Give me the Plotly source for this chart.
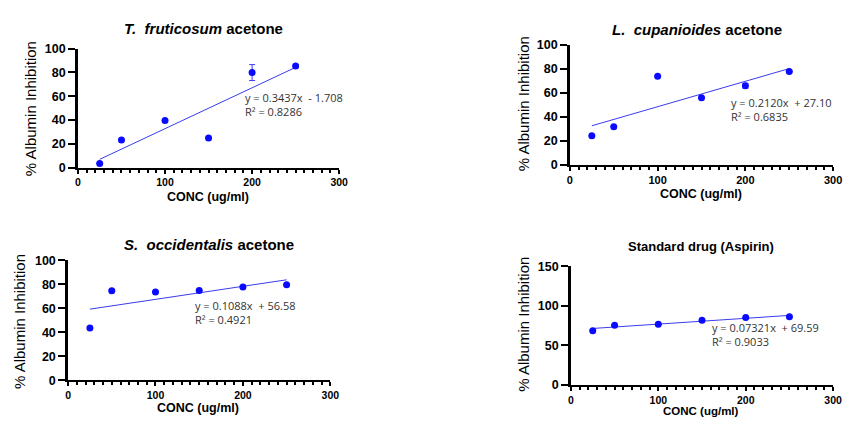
import plotly.graph_objects as go

# ---- data ----
conc = [25, 50, 100, 150, 200, 250]

tf_inhib = [3.3, 23.2, 39.5, 24.8, 79.8, 85.3]
tf_err = [0, 0, 0, 0, 6.7, 0]
tf_slope, tf_icpt, tf_r2 = 0.3437, -1.708, 0.8286

lc_inhib = [24.0, 31.5, 73.6, 55.8, 65.8, 77.6]
lc_err = [0, 0, 0, 0, 2.0, 0]
lc_slope, lc_icpt, lc_r2 = 0.2120, 27.10, 0.6835

so_inhib = [43.5, 74.6, 73.5, 74.9, 77.8, 79.7]
so_err = [0, 0, 0, 0, 0, 0]
so_slope, so_icpt, so_r2 = 0.1088, 56.58, 0.4921

asp_inhib = [68.5, 75.4, 76.6, 81.9, 85.1, 86.3]
asp_err = [0, 0, 0, 0, 0, 0]
asp_slope, asp_icpt, asp_r2 = 0.07321, 69.59, 0.9033

trend_x = [25, 250]

titles = ["<i>T.  fruticosum</i> acetone", "<i>L.  cupanioides</i> acetone",
          "<i>S.  occidentalis</i> acetone", "Standard drug (Aspirin)"]
eq_texts = ["y = 0.3437x  - 1.708<br>R² = 0.8286",
            "y = 0.2120x  + 27.10<br>R² = 0.6835",
            "y = 0.1088x  + 56.58<br>R² = 0.4921",
            "y = 0.07321x  + 69.59<br>R² = 0.9033"]
x_title = "CONC (ug/ml)"
y_title = "% Albumin Inhibition"

W, H = 852, 424

panels = [
    dict(y=tf_inhib, e=tf_err, s=tf_slope, b=tf_icpt, px=(76, 341), py=(43, 166), yr=100, dy=20,
         title_xy=(203, 22), tsize=15, ytitle_xy=(28, 105), xtitle_xy=(208, 196), xts=12.5, eq_xy=(243, 91),
         xtf=10.5, ytf=12.5),
    dict(y=lc_inhib, e=lc_err, s=lc_slope, b=lc_icpt, px=(575, 842), py=(39, 163), yr=100, dy=20,
         title_xy=(704, 23), tsize=15, ytitle_xy=(528, 100), xtitle_xy=(708, 193), xts=12.5, eq_xy=(736, 96),
         xtf=11, ytf=12.5),
    dict(y=so_inhib, e=so_err, s=so_slope, b=so_icpt, px=(66, 332), py=(262, 386), yr=100, dy=20,
         title_xy=(209, 246), tsize=15, ytitle_xy=(17, 325), xtitle_xy=(198, 415), xts=12.5, eq_xy=(193, 306),
         xtf=10.5, ytf=12.5),
    dict(y=asp_inhib, e=asp_err, s=asp_slope, b=asp_icpt, px=(576, 842), py=(268, 391), yr=150, dy=50,
         title_xy=(708, 248), tsize=13, ytitle_xy=(528, 328), xtitle_xy=(708, 418), xts=11.5, eq_xy=(717, 329),
         xtf=10.5, ytf=12.5),
]

fig = go.Figure()
annotations = []
layout_axes = {}

for i, p in enumerate(panels):
    k = "" if i == 0 else str(i + 1)
    xa, ya = "x" + k, "y" + k
    fig.add_trace(go.Scatter(
        x=trend_x, y=[p["s"] * xv + p["b"] for xv in trend_x], mode="lines",
        line=dict(color="#3b3bf0", width=1), xaxis=xa, yaxis=ya, showlegend=False, hoverinfo="skip"))
    fig.add_trace(go.Scatter(
        x=conc, y=p["y"], mode="markers",
        marker=dict(color="#0a0aff", size=7),
        error_y=dict(type="data", array=p["e"], color="#3b3bf0", thickness=1, width=3),
        xaxis=xa, yaxis=ya, showlegend=False))

    x0, x1 = p["px"]
    y0, y1 = p["py"]
    layout_axes["xaxis" + k] = dict(
        domain=[x0 / W, x1 / W], range=[0, 300], anchor=ya,
        showline=True, linecolor="black", linewidth=2, showgrid=False, zeroline=False,
        ticks="outside", ticklen=4, tickwidth=2, tickcolor="black", dtick=100, tick0=0,
        minor=dict(ticks="outside", ticklen=3, tickwidth=1.5, tickcolor="black", dtick=10, showgrid=False),
        tickfont=dict(family="Liberation Sans", size=p["xtf"], color="black", weight="bold"))
    layout_axes["yaxis" + k] = dict(
        domain=[1 - y1 / H, 1 - y0 / H], range=[0, p["yr"]], anchor=xa,
        showline=True, linecolor="black", linewidth=2.5, showgrid=False, zeroline=False,
        ticks="outside", ticklen=7, tickwidth=2, tickcolor="black", dtick=p["dy"], tick0=0,
        tickfont=dict(family="Liberation Sans", size=p["ytf"], color="black", weight="bold"))

    tx, ty = p["title_xy"]
    annotations.append(dict(text="<b>" + titles[i] + "</b>", x=tx / W, y=1 - ty / H, xref="paper", yref="paper",
                            showarrow=False, xanchor="center", yanchor="middle",
                            font=dict(family="Liberation Sans", size=p["tsize"], color="black")))
    yx, yy = p["ytitle_xy"]
    annotations.append(dict(text=y_title, x=yx / W, y=1 - yy / H, xref="paper", yref="paper",
                            showarrow=False, textangle=-90, xanchor="center", yanchor="middle",
                            font=dict(family="Liberation Sans", size=15, color="black")))
    xx, xy = p["xtitle_xy"]
    annotations.append(dict(text="<b>" + x_title + "</b>", x=xx / W, y=1 - xy / H, xref="paper", yref="paper",
                            showarrow=False, xanchor="center", yanchor="middle",
                            font=dict(family="Liberation Sans", size=p["xts"], color="black")))
    ex, ey = p["eq_xy"]
    annotations.append(dict(text=eq_texts[i], x=ex / W, y=1 - (ey - 7) / H, xref="paper", yref="paper",
                            showarrow=False, xanchor="left", yanchor="top", align="left",
                            font=dict(family="Open Sans", size=11, color="#333333")))

fig.update_layout(
    width=W, height=H, margin=dict(l=0, r=0, t=0, b=0),
    paper_bgcolor="white", plot_bgcolor="white",
    annotations=annotations, **layout_axes)

fig.write_html(
    "out.html",
    config={"displayModeBar": False, "responsive": False},
    post_script=("document.documentElement.style.margin='0';document.documentElement.style.padding='0';"
                 "document.documentElement.style.overflow='hidden';"
                 "document.body.style.margin='0';document.body.style.padding='0';"
                 "document.body.style.overflow='hidden';"),
)
